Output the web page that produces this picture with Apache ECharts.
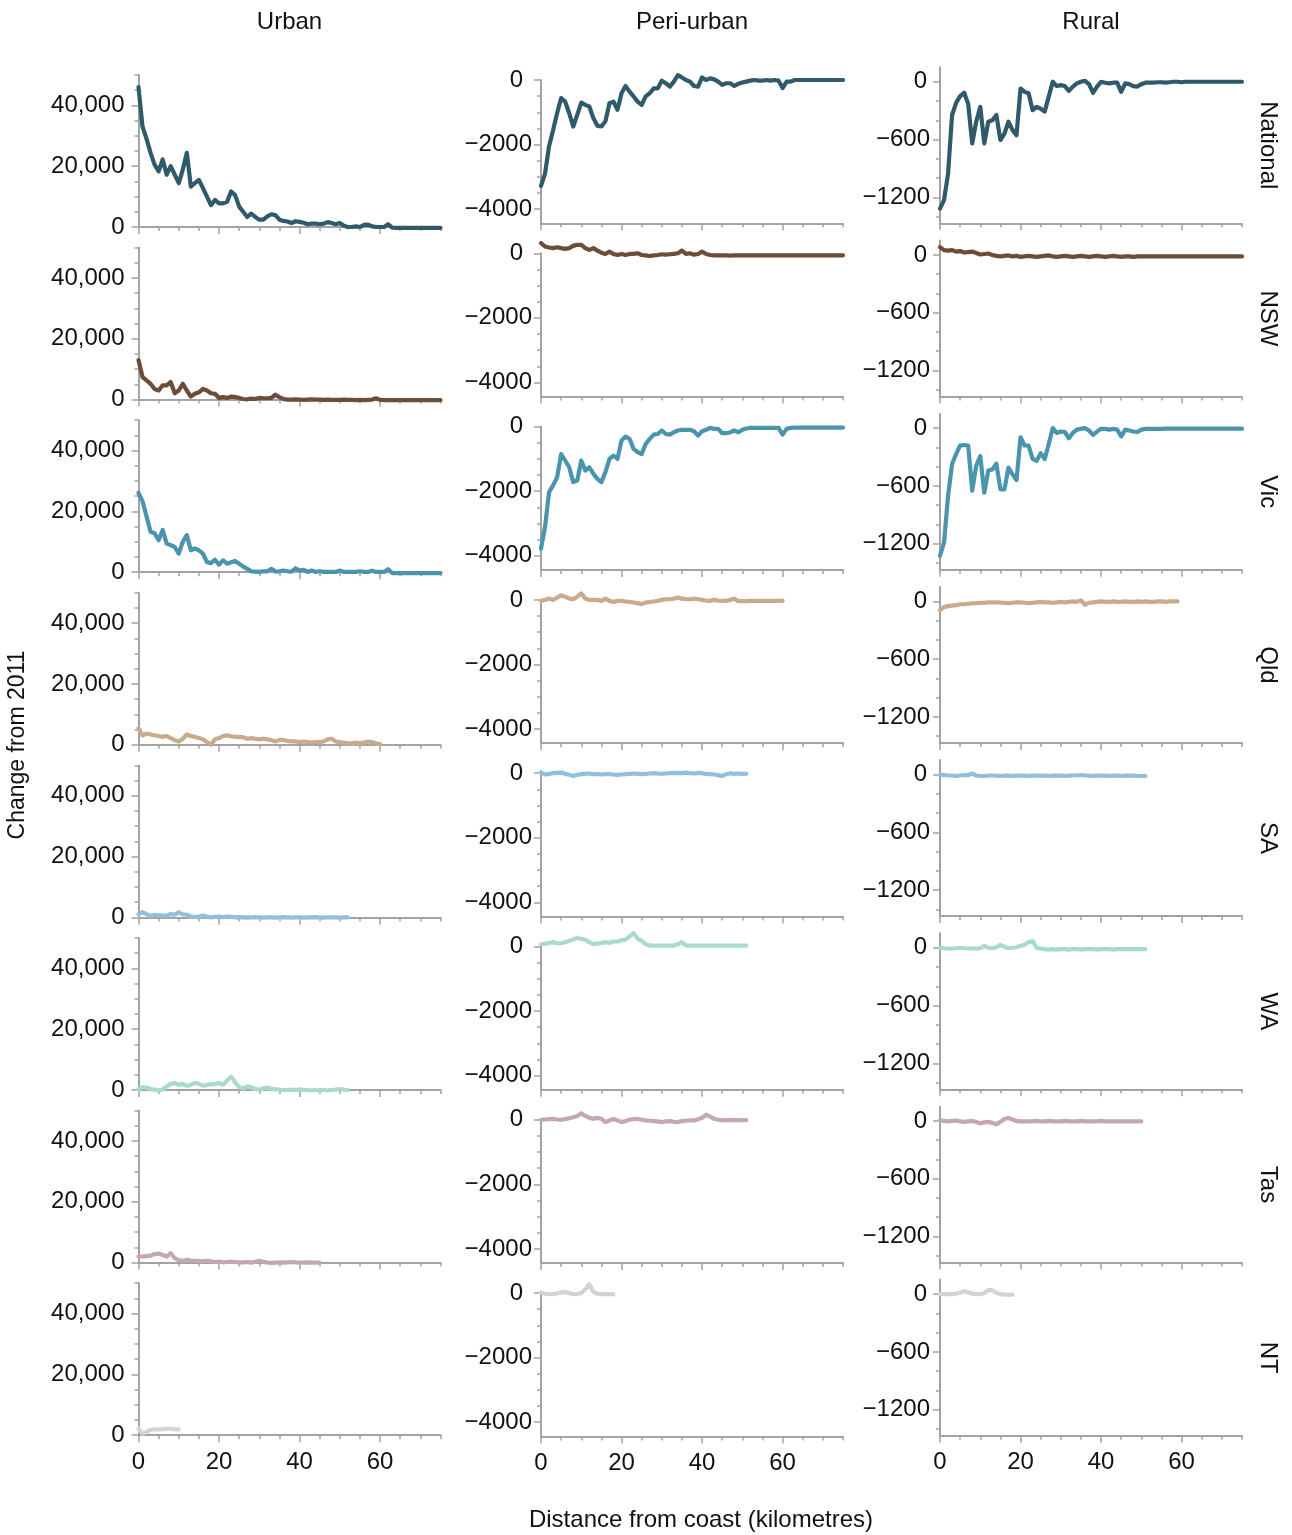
<!DOCTYPE html>
<html><head><meta charset="utf-8">
<script src="https://cdn.jsdelivr.net/npm/echarts@6/dist/echarts.min.js"></script>
<style>html,body{margin:0;padding:0;background:#fff}#c{width:1292px;height:1535px}</style>
</head><body><div id="c"></div>
<script>
// ---------------- data ----------------
const km = [0,1,2,3,4,5,6,7,8,9,10,11,12,13,14,15,16,17,18,19,20,21,22,23,24,25,26,27,28,29,30,31,32,33,34,35,36,37,38,39,40,41,42,43,44,45,46,47,48,49,50,51,52,53,54,55,56,57,58,59,60,61,62,63,64,65,66,67,68,69,70,71,72,73,74,75];
const columns = ['Urban','Peri-urban','Rural'];
const regions = ['National','NSW','Vic','Qld','SA','WA','Tas','NT'];
const xTickLabels = [0,20,40,60];
const urbanTickLabels = [0,20000,40000];
const periTickLabels = [0,-2000,-4000];
const ruralTickLabels = [0,-600,-1200];

const urbanNational = [46000,33000,29000,24400,20500,18300,22200,17200,20000,17200,14400,18900,24400,13300,14400,15500,12800,10000,7200,8900,7800,7800,8300,11700,10500,6700,5000,3300,4400,3300,2400,2400,3500,4200,3900,2400,2000,1800,1300,1900,1700,1400,900,1100,1100,900,1100,1600,1300,900,1300,400,0,0,200,0,700,800,200,0,0,0,900,-200,-300,-300,-300,-300,-300,-300,-300,-300,-300,-300,-300,-300];
const periNational = [-3280,-2900,-2050,-1560,-1030,-560,-670,-1030,-1440,-1080,-700,-770,-820,-1180,-1420,-1440,-1280,-720,-670,-920,-410,-185,-360,-510,-670,-770,-510,-410,-260,-260,-20,-100,-205,-50,150,80,0,-50,-185,-205,80,0,50,20,-50,-150,-100,-100,-185,-120,-80,-50,-20,0,-20,-20,0,-20,0,-20,-250,-50,-50,0,0,0,0,0,0,0,0,0,0,0,0,0];
const ruralNational = [-1318,-1230,-955,-345,-220,-150,-115,-230,-640,-415,-260,-640,-415,-400,-345,-605,-540,-415,-500,-555,-70,-105,-120,-295,-260,-280,-310,-155,0,-45,-35,-45,-95,-50,-17,0,10,-25,-115,-50,0,-10,-17,-10,-10,-105,-17,-25,-45,-50,-25,-10,-10,-10,-5,-5,-10,-5,0,0,-5,0,0,0,0,0,0,0,0,0,0,0,0,0,0,0];

const urbanNSW = [13000,7400,6300,5200,3500,3000,4700,4700,5800,2100,3000,5200,3000,1000,1900,2400,3500,3000,2100,1900,550,800,550,1000,800,550,200,100,300,200,550,450,450,550,1600,800,200,0,0,100,0,-100,0,100,0,0,-100,0,-100,-100,-100,0,-100,-100,-200,-100,-200,-100,0,450,-100,-200,-200,-200,-200,-200,-200,-200,-200,-200,-200,-200,-200,-200,-200,-200];
const periNSW = [316,210,180,160,190,160,137,160,230,263,263,160,105,160,84,20,-20,52,-20,-52,-20,-52,-20,-20,0,-52,-63,-84,-63,-52,-30,-42,-30,-20,0,84,-20,0,-42,-20,52,-20,-52,-63,-63,-63,-63,-70,-63,-63,-63,-63,-63,-63,-63,-63,-63,-63,-63,-63,-63,-63,-63,-63,-63,-63,-63,-63,-63,-63,-63,-63,-63,-63,-63,-63];
const ruralNSW = [80,50,45,50,35,40,25,30,35,20,5,10,15,0,-10,-15,-10,-5,-15,-10,-20,-15,-10,-15,-20,-15,-10,-5,-15,-20,-15,-10,-15,-20,-15,-10,-15,-20,-15,-10,-15,-20,-15,-10,-15,-20,-15,-15,-20,-15,-15,-15,-15,-15,-15,-15,-15,-15,-15,-15,-15,-15,-15,-15,-15,-15,-15,-15,-15,-15,-15,-15,-15,-15,-15,-15];

const urbanVic = [26100,23300,18300,13300,12800,10500,13900,9400,8900,8300,6100,10000,12200,7200,7800,7200,6100,3300,3000,4100,2500,3900,2800,3300,3700,2800,1900,1100,300,200,100,300,300,1100,200,300,550,300,200,1300,550,800,100,550,100,300,100,100,100,100,550,100,100,100,100,300,100,100,500,100,100,100,1000,-300,-300,-300,-300,-300,-300,-300,-300,-300,-300,-300,-300,-300];
const periVic = [-3780,-3110,-2030,-1820,-1570,-850,-1050,-1260,-1720,-1670,-1050,-1360,-1260,-1460,-1620,-1720,-1410,-1000,-900,-1000,-430,-310,-380,-690,-790,-850,-540,-380,-250,-230,-120,-230,-250,-175,-120,-100,-100,-100,-145,-280,-145,-100,-40,-70,-70,-205,-205,-175,-120,-175,-100,-60,-40,-40,-40,-40,-40,-40,-40,-40,-250,-70,-40,-30,-30,-30,-30,-30,-30,-30,-30,-30,-30,-30,-30,-30];
const ruralVic = [-1325,-1190,-705,-373,-270,-180,-175,-180,-650,-390,-290,-670,-440,-430,-370,-635,-635,-410,-480,-540,-95,-180,-180,-320,-340,-260,-320,-165,0,-50,-35,-40,-105,-50,-15,-7,0,-25,-70,-35,-7,-7,-15,-7,-15,-85,-15,-25,-35,-40,-15,-7,-7,-7,-7,-7,-5,-5,-5,-5,-5,-5,-5,-5,-5,-5,-5,-5,-5,-5,-5,-5,-5,-5,-5,-5];

const urbanQld = [5400,3100,3700,3400,3100,2900,2600,2900,2200,1500,1100,2000,3400,2900,2600,2200,1800,900,0,1800,2200,2900,3100,2800,2700,2500,2500,2000,2200,2000,1800,2000,1800,1500,1100,1600,1600,1300,1100,1100,900,1100,900,700,900,900,1100,1800,2000,1100,900,700,450,450,700,450,700,1100,900,450,200];
const periQld = [-30,0,40,0,70,140,100,40,20,100,200,40,0,0,0,-30,40,-30,-60,-30,-30,-50,-60,-80,-100,-130,-80,-60,-50,-30,0,20,20,40,70,40,20,20,40,20,0,-20,-30,0,-20,-30,-30,0,40,-40,-40,-40,-30,-30,-30,-30,-30,-30,-30,-30,-30];
const ruralQld = [-90,-60,-50,-45,-40,-30,-30,-25,-20,-20,-15,-15,-10,-10,-10,-12,-15,-20,-15,-10,-10,-15,-20,-15,-10,-5,-10,-10,-15,-10,-5,-10,-5,0,-5,10,-35,-15,-10,-5,0,-5,-5,0,-5,-5,0,-5,-5,0,-5,0,-5,-5,0,0,-5,0,0,0];

const urbanSA = [1100,1700,1100,500,800,700,600,600,1100,900,1700,1000,900,300,200,200,600,300,0,200,300,100,300,200,0,100,0,-100,0,100,0,-100,0,0,-100,0,100,0,-100,0,0,-100,0,0,100,0,-100,0,0,0,-100,0,0];
const periSA = [30,-40,-20,0,10,20,-20,-50,-90,-50,-30,-20,-10,-30,-30,-40,-30,-30,-40,-50,-40,-30,-20,-10,-20,-30,-20,-10,0,-10,-20,-10,0,10,0,0,20,0,-10,10,0,-20,-30,-40,-60,-90,-30,0,-20,-10,-20,-20];
const ruralSA = [0,-5,-10,-10,-15,-10,-5,-5,10,-10,-15,-15,-10,-10,-12,-15,-10,-12,-15,-12,-10,-12,-15,-12,-10,-12,-12,-15,-12,-10,-12,-15,-12,-10,-10,-5,-10,-12,-15,-12,-10,-12,-15,-12,-12,-15,-12,-10,-12,-15,-15,-15];

const urbanWA = [300,900,800,300,100,-100,100,1200,2000,2300,1700,2000,1400,1700,2300,2000,1400,1700,1900,1900,2300,1700,3100,4400,2500,900,550,1200,900,300,100,550,800,300,300,100,0,0,100,0,200,0,0,-100,0,0,0,-100,0,100,300,100,0];
const periWA = [70,90,110,135,100,100,135,175,220,260,240,210,135,70,90,110,135,110,155,155,200,210,310,415,240,175,70,30,30,30,30,30,30,30,70,135,30,30,30,30,30,30,30,30,30,30,30,30,30,30,30,30];
const ruralWA = [0,-5,-10,-10,-5,0,-5,-10,-5,-10,-5,20,0,-5,5,30,10,-5,0,5,20,30,60,70,0,-10,-15,-20,-15,-20,-15,-15,-20,-15,-15,-20,-15,-15,-15,-20,-15,-15,-15,-20,-15,-15,-15,-15,-15,-15,-15,-15];

const urbanTas = [2000,2000,2100,2300,2800,3000,2500,2000,3100,1500,800,600,900,700,600,500,400,600,400,200,300,100,200,300,200,100,100,200,0,300,600,300,0,-100,0,100,0,100,200,100,0,0,100,0,0,0];
const periTas = [0,10,20,30,10,0,20,50,80,120,200,120,60,30,60,30,-70,-20,30,-20,-70,-40,0,20,30,0,-20,-30,-40,-50,-70,-50,-40,-60,-70,-40,-30,-20,-20,20,60,160,100,30,0,-20,-10,0,-10,-10,-10,-10];
const ruralTas = [5,0,-5,0,5,-5,-10,-5,0,-10,-25,-15,-10,-20,-35,-10,20,30,15,0,-5,-5,-5,-5,0,-5,-5,0,-5,-5,-5,0,-5,-5,-5,0,-5,-5,-5,-5,0,-5,-5,-5,-5,-5,-5,-5,-5,-5,-5];

const urbanNT = [2200,500,1000,1800,1900,1900,2000,2100,2200,1900,1900];
const periNT = [20,-20,-30,-30,-10,20,40,0,-30,-30,0,120,270,40,-20,-30,-30,-30,-40];
const ruralNT = [0,0,0,0,5,15,30,20,5,0,0,10,45,40,15,0,-5,-5,-5];

const seriesByColumn = [
  [urbanNational, urbanNSW, urbanVic, urbanQld, urbanSA, urbanWA, urbanTas, urbanNT],
  [periNational, periNSW, periVic, periQld, periSA, periWA, periTas, periNT],
  [ruralNational, ruralNSW, ruralVic, ruralQld, ruralSA, ruralWA, ruralTas, ruralNT]
];
const regionColors = ['#2e5a6a','#6b4d3a','#4a94ae','#c8aa8c','#93bfdc','#a9dcc4','#c5a7b0','#d3d3d3'];

// ---------------- layout / style ----------------
const FONT = 'Liberation Sans, Arial, sans-serif';
const FS = 24;
const AXIS_COLOR = '#a3a3a3';
const PLOT_W = 302;
const colCfg = [
  {left:138.5, b0:227,   step:172.6, h:152,   min:0,     max:50000, major:urbanTickLabels,
   minor:[5000,10000,15000,25000,30000,35000,45000,50000], margin:14, comma:true, zeroPad:0},
  {left:541,   b0:223.3, step:173.3, h:143.3, min:-4440, max:0,     major:periTickLabels,
   minor:[-500,-1000,-1500,-2500,-3000,-3500], margin:9, comma:false, zeroPad:9},
  {left:940,   b0:223.3, step:173.2, h:156,   min:-1470, max:150,   major:ruralTickLabels,
   minor:[-200,-400,-800,-1000,-1400], margin:10, comma:false, zeroPad:3}
];
const xMinor = [5,10,15,25,30,35,45,50,55,65,70,75];

function fmtY(v, comma){
  if (v === 0) return '{z|0}';
  const a = Math.abs(v);
  const s = comma ? a.toLocaleString('en-US') : String(a);
  return v < 0 ? '\u2212' + s : s;
}

const grid = [], xAxis = [], yAxis = [], series = [], graphic = [];
columns.forEach((col, ci) => {
  const cfg = colCfg[ci];
  regions.forEach((reg, ri) => {
    const gi = grid.length;
    const bottom = cfg.b0 + cfg.step * ri;
    grid.push({left: cfg.left, top: bottom - cfg.h, width: PLOT_W, height: cfg.h,
      containLabel: false, outerBoundsMode: 'none'});
    const lineStyle = {color: AXIS_COLOR, width: 2};
    xAxis.push({
      gridIndex: gi, type: 'value', min: 0, max: 75, position: 'bottom',
      axisLine: {show: true, onZero: false, lineStyle},
      axisTick: {show: true, customValues: xTickLabels, length: 7, lineStyle: {color: AXIS_COLOR, width: 1.5}},
      axisLabel: {show: ri === regions.length - 1, customValues: xTickLabels, margin: 15,
        fontFamily: FONT, fontSize: FS, color: '#111'},
      splitLine: {show: false}
    });
    xAxis.push({
      gridIndex: gi, type: 'value', min: 0, max: 75, position: 'bottom',
      axisLine: {show: false, onZero: false},
      axisTick: {show: true, customValues: xMinor, length: 4, lineStyle: {color: AXIS_COLOR, width: 1.5}},
      axisLabel: {show: false}, splitLine: {show: false}
    });
    yAxis.push({
      gridIndex: gi, type: 'value', min: cfg.min, max: cfg.max, position: 'left',
      axisLine: {show: true, onZero: false, lineStyle},
      axisTick: {show: true, customValues: cfg.major, length: 7, lineStyle: {color: AXIS_COLOR, width: 1.5}},
      axisLabel: {show: true, customValues: cfg.major, margin: cfg.margin,
        fontFamily: FONT, fontSize: FS, color: '#111',
        formatter: v => fmtY(v, cfg.comma),
        rich: {z: {fontFamily: FONT, fontSize: FS, color: '#111', padding: [0, cfg.zeroPad, 0, 0]}}},
      splitLine: {show: false}
    });
    yAxis.push({
      gridIndex: gi, type: 'value', min: cfg.min, max: cfg.max, position: 'left',
      axisLine: {show: false, onZero: false},
      axisTick: {show: true, customValues: cfg.minor, length: 4, lineStyle: {color: AXIS_COLOR, width: 1.5}},
      axisLabel: {show: false}, splitLine: {show: false}
    });
    const vals = seriesByColumn[ci][ri];
    series.push({
      type: 'line', name: col + ' ' + reg,
      xAxisIndex: 2 * gi, yAxisIndex: 2 * gi,
      data: vals.map((v, i) => [km[i], v]),
      showSymbol: false, symbol: 'none', clip: false, silent: true,
      lineStyle: {color: regionColors[ri], width: 4.2, cap: 'round', join: 'round'}
    });
    if (ci === 2) {
      graphic.push({type: 'text', x: 1268, y: bottom - cfg.h / 2, rotation: -Math.PI / 2,
        style: {text: reg, fontFamily: FONT, fontSize: FS, fill: '#111', textAlign: 'center', textVerticalAlign: 'middle'}});
    }
  });
  graphic.push({type: 'text', x: cfg.left + PLOT_W / 2, y: 22,
    style: {text: col, fontFamily: FONT, fontSize: FS, fill: '#111', textAlign: 'center', textVerticalAlign: 'middle'}});
});
graphic.push({type: 'text', x: 18, y: 745, rotation: Math.PI / 2,
  style: {text: 'Change from 2011', fontFamily: FONT, fontSize: 23, fill: '#111', textAlign: 'center', textVerticalAlign: 'middle'}});
graphic.push({type: 'text', x: 701, y: 1520,
  style: {text: 'Distance from coast (kilometres)', fontFamily: FONT, fontSize: FS, fill: '#111', textAlign: 'center', textVerticalAlign: 'middle'}});

const chart = echarts.init(document.getElementById('c'), null, {renderer: 'canvas'});
chart.setOption({animation: false, backgroundColor: '#fff', grid, xAxis, yAxis, series, graphic});
</script></body></html>
